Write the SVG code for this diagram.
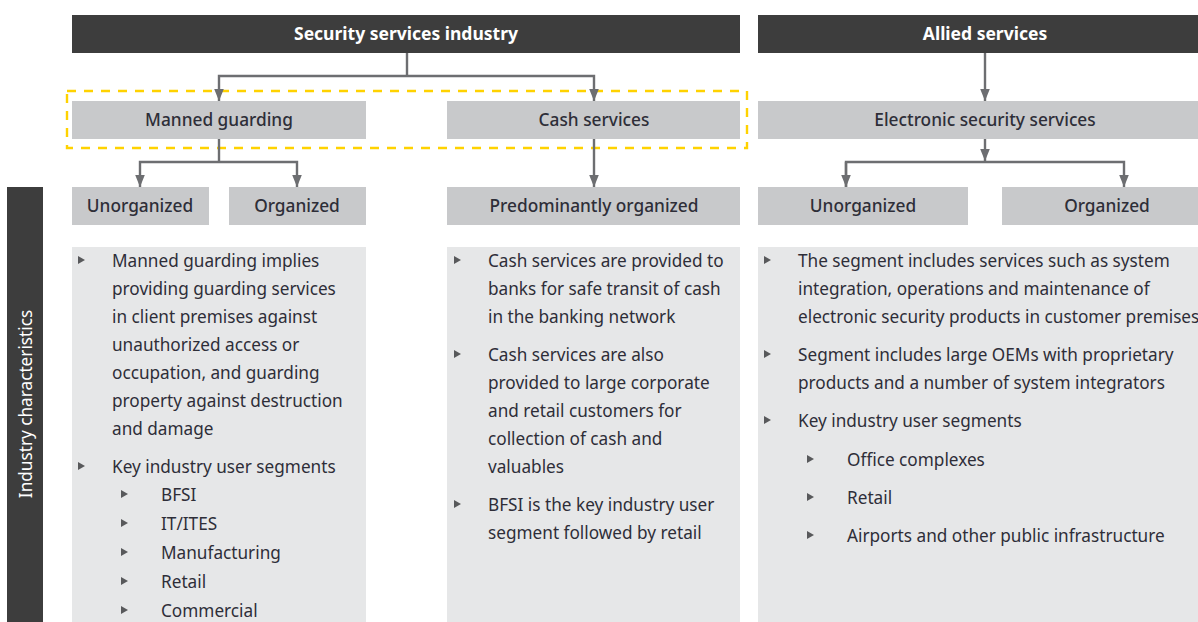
<svg xmlns="http://www.w3.org/2000/svg" width="1198" height="622" viewBox="0 0 1198 622">
  <defs>
    <style>
      .dark { fill: #3d3d3d; }
      .mid { fill: #c8c9cb; }
      .pale { fill: #e6e7e8; }
      .hdr { font-family: "Noto Sans", "Open Sans", sans-serif; font-size: 17.5px; font-weight: 700; fill: #ffffff; text-anchor: middle; }
      .lbl { font-family: "Noto Sans", "Open Sans", sans-serif; font-size: 17.3px; font-weight: 500; fill: #2e2e38; text-anchor: middle; }
      .body { font-family: "Noto Sans", "Open Sans", sans-serif; font-size: 17.2px; fill: #2e2e38; }
      .side { font-family: "Noto Sans", "Open Sans", sans-serif; font-size: 17.2px; fill: #ffffff; text-anchor: middle; }
      .wire { fill: none; stroke: #6d6e71; stroke-width: 2.4; }
      .group { fill: none; stroke: #ffd200; stroke-width: 2.4; stroke-dasharray: 9 8; }
      .tick { fill: #58595b; }
    </style>
    <marker id="head" markerUnits="userSpaceOnUse" markerWidth="12" markerHeight="15" refX="15" refY="6" viewBox="0 0 15 12" orient="auto">
      <path d="M0,0 L15,6 L0,12 z" fill="#6d6e71"/>
    </marker>
    <path id="bullet" d="M0,-4 L7,0 L0,4 z"/>
  </defs>

  <!-- column headers -->
  <g id="security-services-industry">
    <rect class="dark" x="72" y="15" width="668" height="38"/>
    <text class="hdr" x="406" y="40">Security services industry</text>
  </g>
  <g id="allied-services">
    <rect class="dark" x="758" y="15" width="454" height="38"/>
    <text class="hdr" x="985" y="40">Allied services</text>
  </g>

  <!-- highlight around the two core segments -->
  <rect id="core-segments" class="group" x="67" y="91" width="680" height="57"/>

  <!-- second level -->
  <g id="manned-guarding">
    <rect class="mid" x="72" y="101" width="294" height="38"/>
    <text class="lbl" x="219" y="126">Manned guarding</text>
  </g>
  <g id="cash-services">
    <rect class="mid" x="447" y="101" width="293" height="38"/>
    <text class="lbl" x="594" y="126">Cash services</text>
  </g>
  <g id="electronic-security-services">
    <rect class="mid" x="758" y="101" width="454" height="38"/>
    <text class="lbl" x="985" y="126">Electronic security services</text>
  </g>

  <!-- third level -->
  <g id="mg-unorganized">
    <rect class="mid" x="72" y="187" width="137" height="38"/>
    <text class="lbl" x="140" y="212">Unorganized</text>
  </g>
  <g id="mg-organized">
    <rect class="mid" x="229" y="187" width="137" height="38"/>
    <text class="lbl" x="297" y="212">Organized</text>
  </g>
  <g id="cs-predominantly-organized">
    <rect class="mid" x="447" y="187" width="293" height="38"/>
    <text class="lbl" x="594" y="212">Predominantly organized</text>
  </g>
  <g id="es-unorganized">
    <rect class="mid" x="758" y="187" width="210" height="38"/>
    <text class="lbl" x="863" y="212">Unorganized</text>
  </g>
  <g id="es-organized">
    <rect class="mid" x="1002" y="187" width="210" height="38"/>
    <text class="lbl" x="1107" y="212">Organized</text>
  </g>

  <!-- row label -->
  <g id="industry-characteristics">
    <rect class="dark" x="7" y="187" width="36" height="435"/>
    <text class="side" transform="translate(32,404) rotate(-90)">Industry characteristics</text>
  </g>

  <!-- characteristics: manned guarding -->
  <g id="mg-characteristics">
    <rect class="pale" x="72" y="247" width="294" height="375"/>
    <use href="#bullet" class="tick" x="78" y="260"/>
    <text class="body" x="112" y="267">Manned guarding implies</text>
    <text class="body" x="112" y="295">providing guarding services</text>
    <text class="body" x="112" y="323">in client premises against</text>
    <text class="body" x="112" y="351">unauthorized access or</text>
    <text class="body" x="112" y="379">occupation, and guarding</text>
    <text class="body" x="112" y="407">property against destruction</text>
    <text class="body" x="112" y="435">and damage</text>
    <use href="#bullet" class="tick" x="78" y="466"/>
    <text class="body" x="112" y="473">Key industry user segments</text>
    <use href="#bullet" class="tick" x="121" y="494"/>
    <text class="body" x="161" y="501">BFSI</text>
    <use href="#bullet" class="tick" x="121" y="523"/>
    <text class="body" x="161" y="530">IT/ITES</text>
    <use href="#bullet" class="tick" x="121" y="552"/>
    <text class="body" x="161" y="559">Manufacturing</text>
    <use href="#bullet" class="tick" x="121" y="581"/>
    <text class="body" x="161" y="588">Retail</text>
    <use href="#bullet" class="tick" x="121" y="610"/>
    <text class="body" x="161" y="617">Commercial</text>
  </g>

  <!-- characteristics: cash services -->
  <g id="cs-characteristics">
    <rect class="pale" x="447" y="247" width="293" height="375"/>
    <use href="#bullet" class="tick" x="454" y="260"/>
    <text class="body" x="488" y="267">Cash services are provided to</text>
    <text class="body" x="488" y="295">banks for safe transit of cash</text>
    <text class="body" x="488" y="323">in the banking network</text>
    <use href="#bullet" class="tick" x="454" y="354"/>
    <text class="body" x="488" y="361">Cash services are also</text>
    <text class="body" x="488" y="389">provided to large corporate</text>
    <text class="body" x="488" y="417">and retail customers for</text>
    <text class="body" x="488" y="445">collection of cash and</text>
    <text class="body" x="488" y="473">valuables</text>
    <use href="#bullet" class="tick" x="454" y="504"/>
    <text class="body" x="488" y="511">BFSI is the key industry user</text>
    <text class="body" x="488" y="539">segment followed by retail</text>
  </g>

  <!-- characteristics: electronic security -->
  <g id="es-characteristics">
    <rect class="pale" x="758" y="247" width="454" height="375"/>
    <use href="#bullet" class="tick" x="764" y="260"/>
    <text class="body" x="798" y="267">The segment includes services such as system</text>
    <text class="body" x="798" y="295">integration, operations and maintenance of</text>
    <text class="body" x="798" y="323">electronic security products in customer premises</text>
    <use href="#bullet" class="tick" x="764" y="354"/>
    <text class="body" x="798" y="361">Segment includes large OEMs with proprietary</text>
    <text class="body" x="798" y="389">products and a number of system integrators</text>
    <use href="#bullet" class="tick" x="764" y="420"/>
    <text class="body" x="798" y="427">Key industry user segments</text>
    <use href="#bullet" class="tick" x="807" y="459"/>
    <text class="body" x="847" y="466">Office complexes</text>
    <use href="#bullet" class="tick" x="807" y="497"/>
    <text class="body" x="847" y="504">Retail</text>
    <use href="#bullet" class="tick" x="807" y="535"/>
    <text class="body" x="847" y="542">Airports and other public infrastructure</text>
  </g>

  <!-- connectors -->
  <g id="connectors">
    <path class="wire" d="M407,53 V76"/>
    <path class="wire" d="M407,76 H219 V101" marker-end="url(#head)"/>
    <path class="wire" d="M407,76 H594 V101" marker-end="url(#head)"/>
    <path class="wire" d="M219,139 V162"/>
    <path class="wire" d="M219,162 H140 V187" marker-end="url(#head)"/>
    <path class="wire" d="M219,162 H297 V187" marker-end="url(#head)"/>
    <path class="wire" d="M594,139 V187" marker-end="url(#head)"/>
    <path class="wire" d="M985,53 V101" marker-end="url(#head)"/>
    <path class="wire" d="M985,139 V161" marker-end="url(#head)"/>
    <path class="wire" d="M846,187 V162 H1124 V187" marker-end="url(#head)"/>
    <path class="wire" d="M846,162 V187" marker-end="url(#head)"/>
  </g>
</svg>
